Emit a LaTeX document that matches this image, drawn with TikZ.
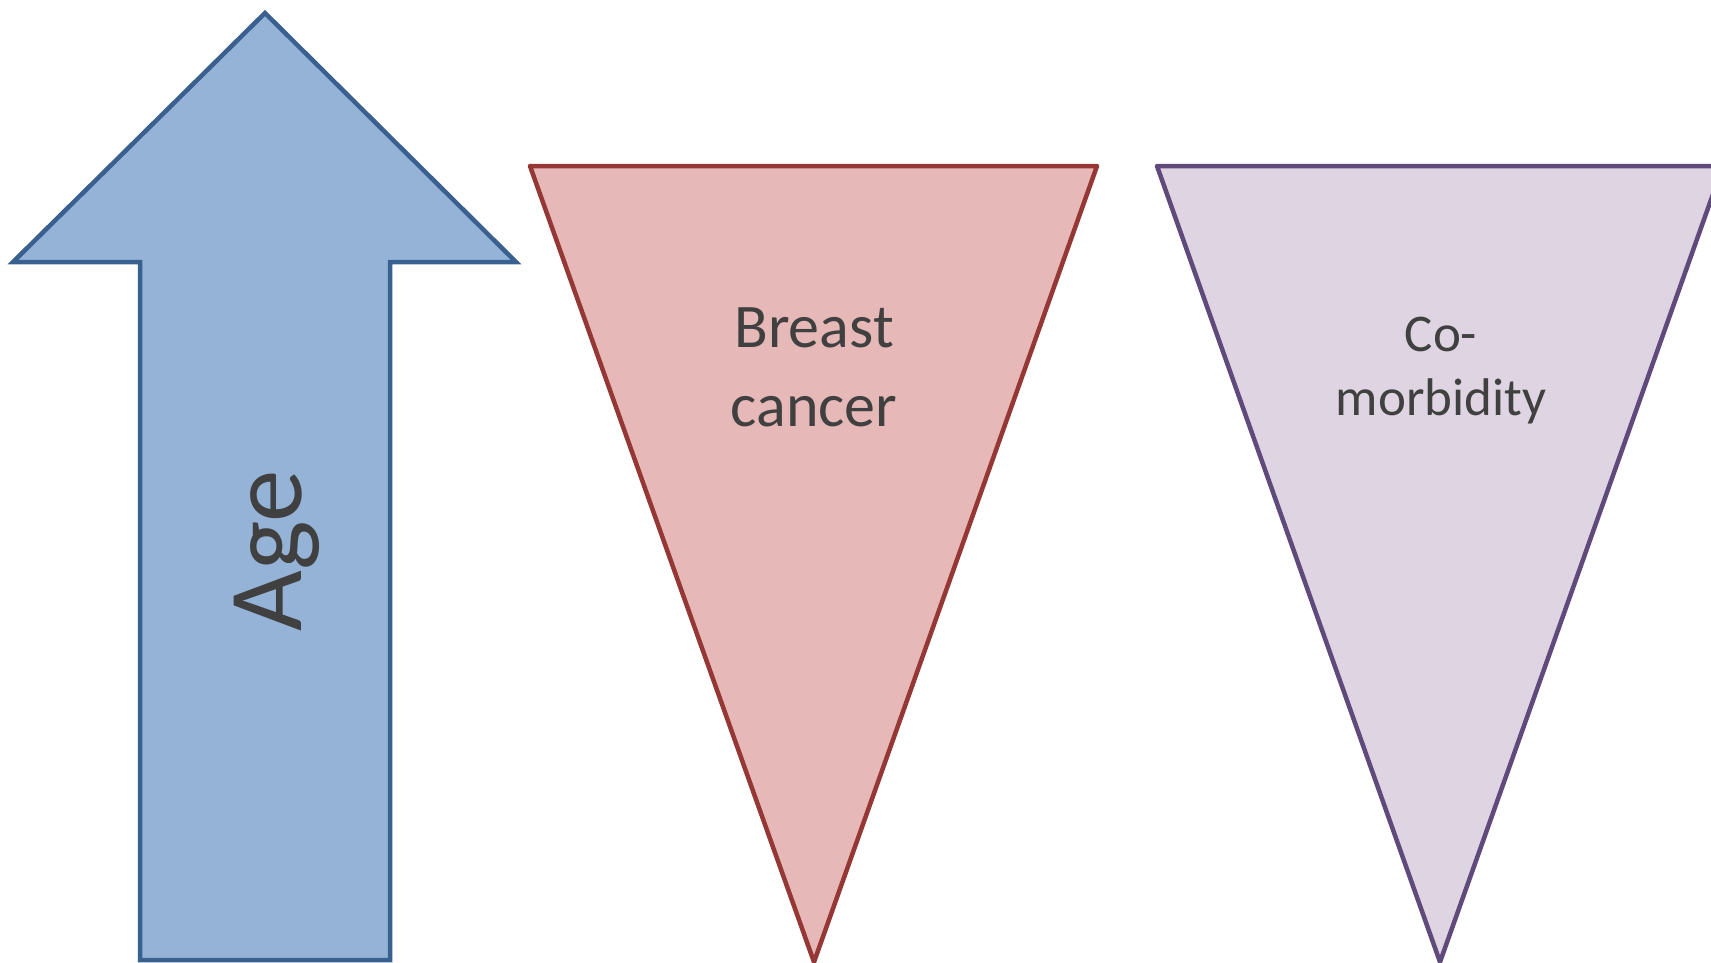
\documentclass[tikz,border=0pt]{standalone}
\usepackage{fontspec}
\setmainfont{Carlito}
\definecolor{arrowfill}{HTML}{95B3D7}
\definecolor{arrowline}{HTML}{3A6090}
\definecolor{redfill}{HTML}{E6B8B7}
\definecolor{redline}{HTML}{953735}
\definecolor{purplefill}{HTML}{DFD4E2}
\definecolor{purpleline}{HTML}{604A7B}
\definecolor{txt}{HTML}{404040}
\tikzset{
  shapeline/.style={line width=4.5pt},
  lbl/.style={text=txt, align=center, inner sep=0pt},
}
\begin{document}
\begin{tikzpicture}[x=1pt,y=-1pt]
\useasboundingbox (0,0) rectangle (1711,962);
\clip (0,0) rectangle (1711,962);
% arrow
\draw[shapeline, draw=arrowline, fill=arrowfill, line join=miter]
  (265,13) -- (516,262) -- (390,262) -- (390,960) -- (140,960) -- (140,262) -- (13,262) -- cycle;
% red triangle
\draw[shapeline, draw=redline, fill=redfill, line join=round]
  (530,166) -- (1097,166) -- (814,962) -- cycle;
% purple triangle
\draw[shapeline, draw=purpleline, fill=purplefill, line join=round]
  (1157,166) -- (1723,166) -- (1440,962) -- cycle;
% labels
\node[lbl, font=\fontsize{62}{79}\selectfont] (bc) at (814,367) {Breast\\cancer};
\node[lbl, font=\fontsize{53}{64}\selectfont] (cm) at (1441,371) {Co-\\morbidity};
\node[lbl, font=\fontsize{105}{120}\selectfont, rotate=90, anchor=base] (age) at (301,551) {Age};
\end{tikzpicture}
\end{document}
